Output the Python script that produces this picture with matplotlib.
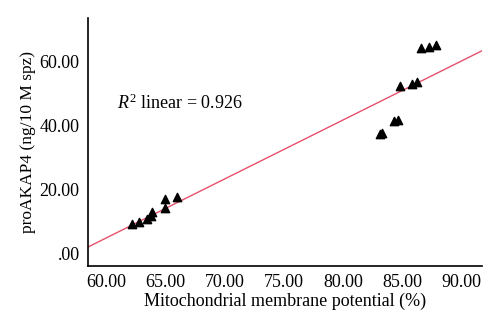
import numpy as np
import matplotlib.pyplot as plt

plt.rcParams['font.family'] = ['Liberation Serif', 'DejaVu Serif']
plt.rcParams['mathtext.fontset'] = 'custom'
plt.rcParams['mathtext.rm'] = 'Liberation Serif'
plt.rcParams['mathtext.it'] = 'Liberation Serif:italic'

##values
mmp = [62.17, 62.81, 63.43, 63.85, 63.9, 64.97, 65.03, 66.0,
       83.1, 83.3, 84.3, 84.65, 84.8, 85.78, 86.25, 86.56, 87.23, 87.82]
proakap4 = [9.4, 10.0, 10.9, 11.7, 13.1, 14.2, 17.2, 17.8,
            37.6, 37.9, 41.5, 41.9, 52.5, 53.0, 53.75, 64.4, 64.8, 65.3]
xticks = [60, 65, 70, 75, 80, 85, 90]
yticks = [0, 20, 40, 60]
r2_text = r'$\mathit{R}^{\mathrm{2}}$ linear = 0.926'

fig = plt.figure(figsize=(5, 3.32), dpi=100)
ax = fig.add_axes([0.176, 0.199, 0.788, 0.747])

xmin, xmax = 58.5, 91.7
ax.set_xlim(xmin, xmax)
ax.set_ylim(-3.75, 73.75)

##fit line over the full x range
slope, intercept = np.polyfit(mmp, proakap4, 1)
xs = np.array([xmin, xmax])
ax.plot(xs, slope * xs + intercept, color='#e8506a', lw=1)

ax.scatter(mmp, proakap4, marker='^', s=36, color='black', zorder=3)

ax.set_xticks(xticks)
ax.set_xticklabels(['%.2f' % v for v in xticks])
ax.set_yticks(yticks)
ax.set_yticklabels(['.00' if v == 0 else '%.2f' % v for v in yticks])
ax.tick_params(length=0, labelsize=13, pad=6)

ax.spines['top'].set_visible(False)
ax.spines['right'].set_visible(False)
ax.spines['left'].set_linewidth(1.2)
ax.spines['bottom'].set_linewidth(1.2)

ax.set_xlabel('Mitochondrial membrane potential (%)', fontsize=13, labelpad=1)
ax.set_ylabel('proAKAP4 (ng/10 M spz)', fontsize=12.5, labelpad=3)

ax.text(60.93, 47.2, r2_text, fontsize=13, va='center')

fig.savefig('out.png', dpi=100)
